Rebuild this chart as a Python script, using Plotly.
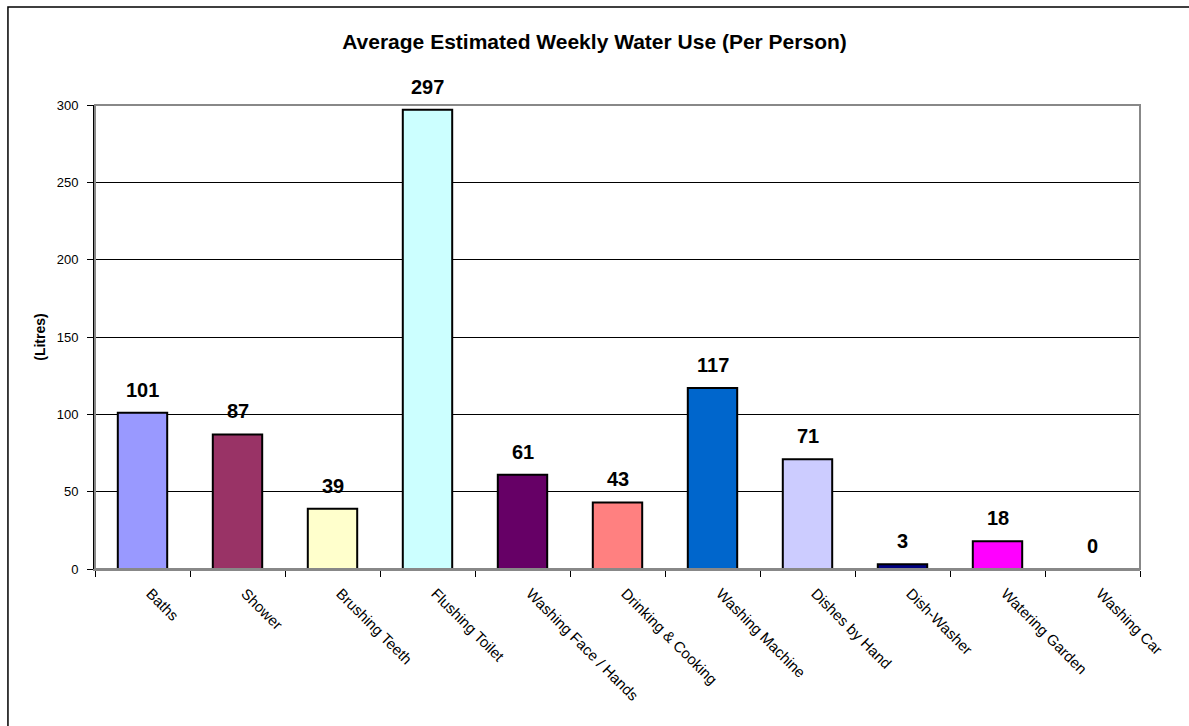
import plotly.graph_objects as go

categories = ["Baths", "Shower", "Brushing Teeth", "Flushing Toilet", "Washing Face / Hands",
              "Drinking & Cooking", "Washing Machine", "Dishes by Hand", "Dish-Washer",
              "Watering Garden", "Washing Car"]
values = [101, 87, 39, 297, 61, 43, 117, 71, 3, 18, 0]
colors = ["#9999FF", "#993366", "#FFFFCC", "#CCFFFF", "#660066", "#FF8080",
          "#0066CC", "#CCCCFF", "#000080", "#FF00FF", "#FFFF00"]
y_ticks = [0, 50, 100, 150, 200, 250, 300]

FONT = "Arial, Liberation Sans, Helvetica, sans-serif"

fig = go.Figure(go.Bar(
    x=categories, y=values,
    marker=dict(color=colors, line=dict(color="black", width=2)),
    width=0.52,
))

annotations = [
    dict(x=c, y=v, xref="x", yref="y", text=f"<b>{v}</b>", showarrow=False,
         yanchor="bottom", xanchor="center", yshift=10,
         font=dict(family=FONT, size=20, color="black"))
    for c, v in zip(categories, values)
]

fig.update_layout(
    width=1189, height=726,
    margin=dict(l=95, r=49, t=105, b=157),
    paper_bgcolor="white", plot_bgcolor="white",
    font=dict(family=FONT, color="black"),
    title=dict(text="<b>Average Estimated Weekly Water Use (Per Person)</b>",
               x=0.5, xanchor="center", y=1 - 42 / 726, yanchor="middle",
               font=dict(size=21, color="black")),
    showlegend=False,
    annotations=annotations,
    shapes=[
        dict(type="rect", xref="paper", yref="paper", x0=-0.0833, x1=1.2, y0=-0.6, y1=1.2112,
             line=dict(color="black", width=1.5), fillcolor="rgba(0,0,0,0)", layer="below"),
        dict(type="rect", xref="paper", yref="paper", x0=0, x1=1, y0=0, y1=1,
             line=dict(color="#888888", width=2), fillcolor="rgba(0,0,0,0)", layer="above"),
    ],
)
fig.update_xaxes(
    tickangle=45, tickfont=dict(size=15), ticks="outside", ticklen=6, tickcolor="black",
    tickson="boundaries", showline=True, linecolor="#888888", linewidth=2,
    ticklabelstandoff=8, ticklabelshift=8,
    showgrid=False, range=[-0.5, 10.5],
)
fig.update_yaxes(
    range=[0, 300], tickvals=y_ticks, tickfont=dict(size=13), ticks="outside", ticklen=6,
    tickcolor="black", showline=True, linecolor="black", linewidth=2,
    ticklabelstandoff=6,
    showgrid=True, gridcolor="black", gridwidth=1, zeroline=False,
    title=dict(text="<b>(Litres)</b>", font=dict(size=14), standoff=8),
)

fig.write_html("out.html")
